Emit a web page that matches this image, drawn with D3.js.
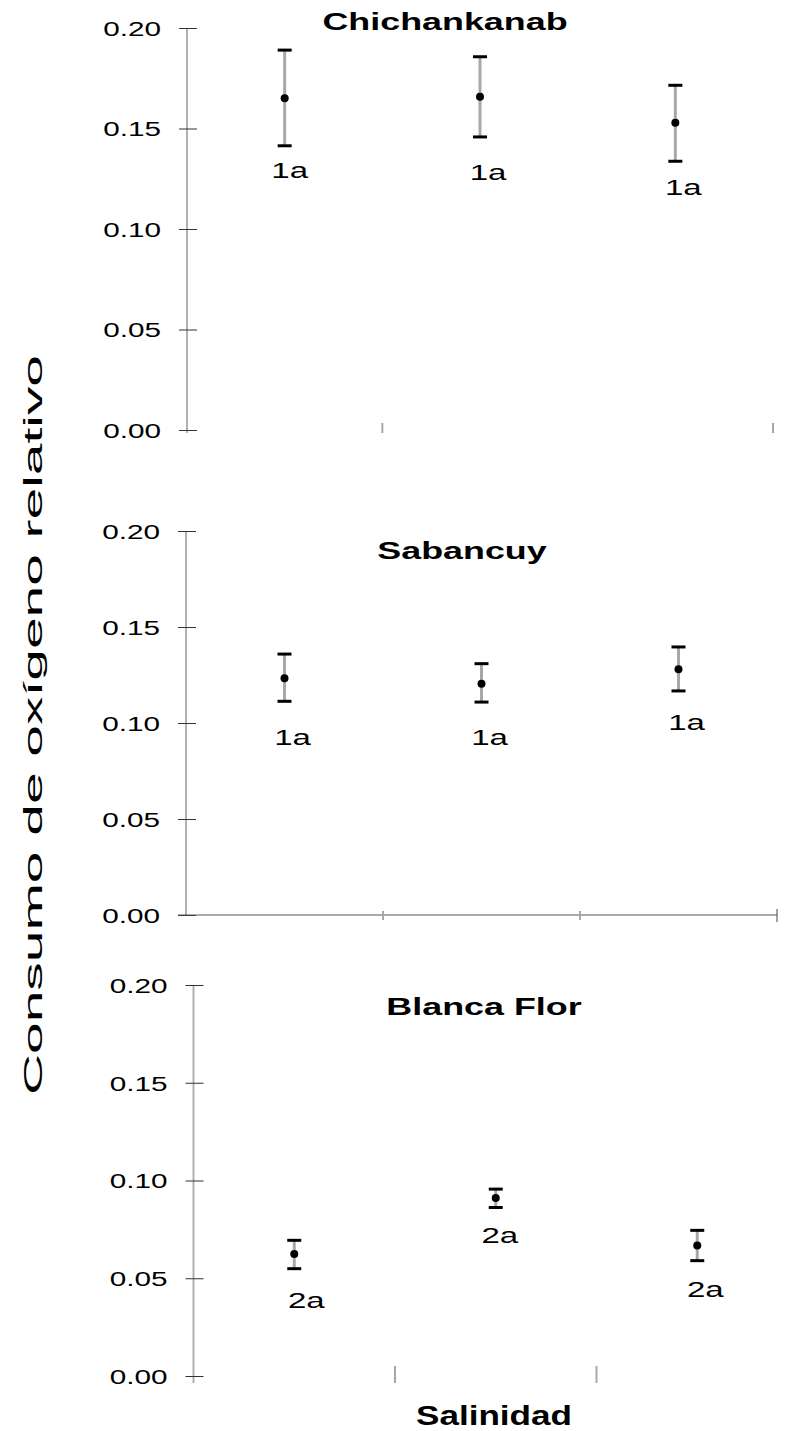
<!DOCTYPE html>
<html>
<head>
<meta charset="utf-8">
<script src="https://cdn.jsdelivr.net/npm/d3@7"></script>
<style>
  html, body { margin: 0; padding: 0; background: #fff; }
  svg { display: block; }
  text { font-family: "Liberation Sans", Arial, sans-serif; fill: #000; }
</style>
</head>
<body>
<svg id="chart" width="791" height="1431"></svg>
<script>
// Salinity levels (three treatments, unlabeled on the axis)
const salinidades = ["S1", "S2", "S3"];
const yTicks = [0, 0.05, 0.10, 0.15, 0.20];

// Chichankanab: mean and error-bar limits
const chichMedia = [0.165, 0.1658, 0.1529];
const chichInf   = [0.1414, 0.1458, 0.1337];
const chichSup   = [0.189, 0.1857, 0.1715];
const chichLetras = ["1a", "1a", "1a"];

// Sabancuy
const sabMedia = [0.1233, 0.1205, 0.1280];
const sabInf   = [0.1113, 0.1109, 0.1167];
const sabSup   = [0.1359, 0.1309, 0.1396];
const sabLetras = ["1a", "1a", "1a"];

// Blanca Flor
const bfMedia = [0.0624, 0.0910, 0.0668];
const bfInf   = [0.0549, 0.0862, 0.0590];
const bfSup   = [0.0694, 0.0956, 0.0745];
const bfLetras = ["2a", "2a", "2a"];

const svg = d3.select("#chart");
const SX = 1.45;       // horizontal stretch of the tick lettering
const SX_TIT = 1.56;   // horizontal stretch of the panel titles
const SX_LET = 1.5;    // horizontal stretch of the group letters

// Panel layout (pixel placement of each panel and of its letters)
const paneles = [
  { titulo: "Chichankanab", media: chichMedia, inf: chichInf, sup: chichSup, letras: chichLetras,
    x0: 187, x1: 773, yBase: 430, yTop: 28, tituloX: 445, tituloY: 30,
    letraDx: [5, 8, 8], letraDy: [32, 43, 34],
    xTicks: [1, 3], xTickY: [423, 433], ejeX: false, xTickOscuro: [], yEjeFin: 433 },
  { titulo: "Sabancuy", media: sabMedia, inf: sabInf, sup: sabSup, letras: sabLetras,
    x0: 186, x1: 777, yBase: 915, yTop: 531, tituloX: 462, tituloY: 559,
    letraDx: [8, 8, 8], letraDy: [44, 43, 39],
    xTicks: [1, 2], xTickY: [911, 920], ejeX: true, xTickOscuro: [3], yEjeFin: 915 },
  { titulo: "Blanca Flor", media: bfMedia, inf: bfInf, sup: bfSup, letras: bfLetras,
    x0: 193.5, x1: 798, yBase: 1376, yTop: 985, tituloX: 484, tituloY: 1015,
    letraDx: [12, 4, 8], letraDy: [39, 36, 36],
    xTicks: [1, 2], xTickY: [1366, 1383], ejeX: false, xTickOscuro: [], yEjeFin: 1383 }
];

paneles.forEach(p => {
  const g = svg.append("g");
  const x = d3.scaleBand().domain(salinidades).range([p.x0, p.x1]);
  const y = d3.scaleLinear().domain([0, 0.20]).range([p.yBase, p.yTop]);
  const borde = i => p.x0 + i * x.step();

  // vertical axis line
  g.append("line")
    .attr("x1", p.x0).attr("x2", p.x0)
    .attr("y1", y(0.20)).attr("y2", p.yEjeFin)
    .attr("stroke", "#b0b0b0").attr("stroke-width", 2);

  // y ticks and labels
  const ay = g.append("g").attr("transform", `translate(${p.x0},0)`)
    .call(d3.axisLeft(y).tickValues(yTicks).tickFormat(d3.format(".2f")).tickSize(8));
  ay.select(".domain").remove();
  ay.selectAll(".tick line").attr("x1", -8).attr("x2", 10)
    .attr("stroke", "#333").attr("stroke-width", 1);
  ay.selectAll(".tick text")
    .attr("x", -26 / SX).attr("dy", "0.36em")
    .attr("transform", `scale(${SX},1)`)
    .attr("font-size", 20.5).attr("fill", "#000")
    .attr("font-family", "Liberation Sans, Arial, sans-serif");

  // horizontal axis
  if (p.ejeX) {
    g.append("line")
      .attr("x1", p.x0 - 8).attr("x2", p.x1)
      .attr("y1", y(0)).attr("y2", y(0))
      .attr("stroke", "#555").attr("stroke-width", 1);
  }
  p.xTicks.forEach(i => {
    g.append("line")
      .attr("x1", borde(i)).attr("x2", borde(i))
      .attr("y1", p.xTickY[0]).attr("y2", p.xTickY[1])
      .attr("stroke", "#a8a8a8").attr("stroke-width", 2);
  });
  p.xTickOscuro.forEach(i => {
    g.append("line")
      .attr("x1", borde(i)).attr("x2", borde(i))
      .attr("y1", y(0) - 6).attr("y2", y(0) + 7)
      .attr("stroke", "#444").attr("stroke-width", 1);
  });

  // title
  g.append("text")
    .attr("transform", `translate(${p.tituloX},${p.tituloY}) scale(${SX_TIT},1)`)
    .attr("text-anchor", "middle")
    .attr("font-weight", "bold").attr("font-size", 23)
    .text(p.titulo);

  // error bars, means and letters
  salinidades.forEach((s, i) => {
    const cx = x(s) + x.bandwidth() / 2;
    g.append("line")
      .attr("x1", cx).attr("x2", cx)
      .attr("y1", y(p.sup[i])).attr("y2", y(p.inf[i]))
      .attr("stroke", "#a8a8a8").attr("stroke-width", 3);
    [p.sup[i], p.inf[i]].forEach(v => {
      g.append("line")
        .attr("x1", cx - 7).attr("x2", cx + 7)
        .attr("y1", y(v)).attr("y2", y(v))
        .attr("stroke", "#000").attr("stroke-width", 3);
    });
    g.append("circle")
      .attr("cx", cx).attr("cy", y(p.media[i])).attr("r", 4)
      .attr("fill", "#000");
    const lx = cx + p.letraDx[i], ly = y(p.inf[i]) + p.letraDy[i];
    g.append("text")
      .attr("transform", `translate(${lx},${ly}) scale(${SX_LET},1)`)
      .attr("text-anchor", "middle")
      .attr("font-size", 22)
      .text(p.letras[i]);
  });
});

// shared axis titles
svg.append("text")
  .attr("transform", "translate(42,725) rotate(-90)")
  .attr("text-anchor", "middle")
  .attr("font-size", 26)
  .attr("textLength", 740).attr("lengthAdjust", "spacingAndGlyphs")
  .text("Consumo de oxígeno relativo");

svg.append("text")
  .attr("x", 416).attr("y", 1425)
  .attr("font-weight", "bold").attr("font-size", 27)
  .attr("textLength", 156).attr("lengthAdjust", "spacingAndGlyphs")
  .text("Salinidad");
</script>
</body>
</html>
